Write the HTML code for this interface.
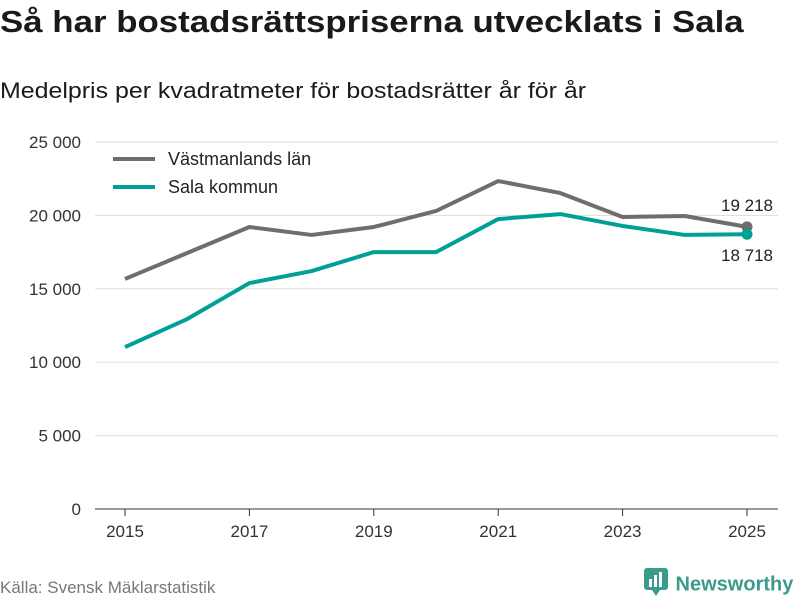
<!DOCTYPE html>
<html><head><meta charset="utf-8">
<style>
body{margin:0;width:800px;height:600px;background:#fff;font-family:"Liberation Sans",sans-serif;overflow:hidden;position:relative}
#title{position:absolute;left:0;top:4px;font-size:31px;font-weight:bold;color:#1a1a1a;transform:scaleX(1.124);transform-origin:left top;white-space:nowrap}
#subtitle{position:absolute;left:0;top:78px;font-size:22px;color:#1a1a1a;transform:scaleX(1.133);transform-origin:left top;white-space:nowrap}
#source{position:absolute;left:0;top:578px;font-size:17px;color:#777}
#logo{position:absolute;left:644px;top:570px;font-size:20px;font-weight:bold;color:#3a9a8c}
#chart{position:absolute;left:0;top:0}
</style></head><body>
<div id="title">Så har bostadsrättspriserna utvecklats i Sala</div>
<div id="subtitle">Medelpris per kvadratmeter för bostadsrätter år för år</div>
<div id="source">Källa: Svensk Mäklarstatistik</div>
<div id="logo"><svg width="26" height="30" style="position:relative;vertical-align:middle;top:-2px"><rect x="0" y="0" width="24" height="22" rx="3" fill="#3a9a8c"/><rect x="5" y="11" width="3" height="8" fill="#fff"/><rect x="10" y="7" width="3" height="12" fill="#fff"/><rect x="15" y="4" width="3" height="15" fill="#fff"/><polygon points="8,22 16,22 12,28" fill="#3a9a8c"/></svg> Newsworthy</div>
<svg id="chart" width="800" height="600"></svg>
<script>
const years=[2015,2016,2017,2018,2019,2020,2021,2022,2023,2024,2025];
const vastmanland=[15670,17440,19210,18670,19210,20300,22340,21520,19890,19960,19218];
const sala=[11030,12940,15390,16210,17500,17500,19750,20090,19280,18670,18718];
const yTicks=[0,5000,10000,15000,20000,25000];
const xTicks=[2015,2017,2019,2021,2023,2025];
const seriesNames=["Västmanlands län","Sala kommun"];
const colors=["#6e6e6e","#00a096"];
const NS="http://www.w3.org/2000/svg";
const svg=document.getElementById('chart');
const x=v=>125+(v-2015)*62.2;
const y=v=>509-v*367/25000;
const fmt=v=>v.toLocaleString('en').replace(/,/g,' ');
function mk(t,a){const e=document.createElementNS(NS,t);for(const k in a)e.setAttribute(k,a[k]);svg.appendChild(e);return e;}
yTicks.forEach(t=>{
  const l=mk('line',{x1:95,x2:778,y1:y(t),y2:y(t),stroke:t===0?'#333':'#ddd','stroke-width':1});
  
  
  const tx=mk('text',{x:81,y:y(t)+6,'text-anchor':'end','font-size':17,fill:'#333'});
  tx.textContent=fmt(t);
  
  
});
xTicks.forEach(t=>{
  const l=mk('line',{x1:x(t),x2:x(t),y1:509,y2:516,stroke:'#333'});
  
  
  const tx=mk('text',{x:x(t),y:537,'text-anchor':'middle','font-size':17,fill:'#333'});
  tx.textContent=t;
  
  
});
[vastmanland,sala].forEach((s,i)=>{
  const p=mk('polyline',{points:s.map((v,j)=>x(years[j])+','+y(v)).join(' '),fill:'none',stroke:colors[i],'stroke-width':4,'stroke-linejoin':'round'});
  
  
  const last=s[s.length-1];
  const c=mk('circle',{cx:x(years[years.length-1]),cy:y(last),r:5.5,fill:colors[i]});
  
  
  const lb=mk('text',{x:x(years[years.length-1]),y:i?y(last)+27:y(last)-16,'text-anchor':'middle','font-size':17,fill:'#222'});
  lb.textContent=fmt(last);
  
  
  const ll=mk('line',{x1:113,x2:155,y1:159+i*28,y2:159+i*28,stroke:colors[i],'stroke-width':4});
  
  
  const lt=mk('text',{x:168,y:165+i*28,'font-size':18,fill:'#222'});
  lt.textContent=seriesNames[i];
  
  
});
</script>
</body></html>
